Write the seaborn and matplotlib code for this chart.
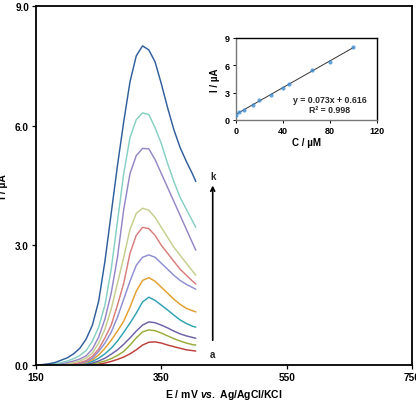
import numpy as np
import pandas as pd
import matplotlib
matplotlib.use("Agg")
import matplotlib.pyplot as plt
import seaborn as sns

# ---------------- data ----------------
E = [150, 160, 170, 180, 190, 200, 210, 220, 230, 240, 250, 260, 270, 280,
     290, 300, 310, 320, 330, 340, 350, 360, 370, 380, 390, 400, 405]

curve_a = [0, 0, 0, 0, 0, 0, 0, 0, 0, 0, 0.02, 0.05, 0.09, 0.14, 0.2, 0.28, 0.38, 0.5, 0.57, 0.58, 0.55, 0.5, 0.46, 0.42, 0.38, 0.36, 0.35]
curve_b = [0, 0, 0, 0, 0, 0, 0, 0, 0, 0.03, 0.06, 0.1, 0.16, 0.24, 0.34, 0.5, 0.68, 0.83, 0.88, 0.86, 0.8, 0.73, 0.66, 0.6, 0.55, 0.51, 0.5]
curve_c = [0, 0, 0, 0, 0, 0, 0, 0, 0.02, 0.05, 0.1, 0.17, 0.27, 0.38, 0.52, 0.68, 0.85, 1.0, 1.08, 1.06, 1.0, 0.93, 0.85, 0.78, 0.73, 0.69, 0.67]
curve_d = [0, 0, 0, 0, 0, 0, 0, 0.02, 0.04, 0.09, 0.17, 0.28, 0.42, 0.6, 0.82, 1.05, 1.3, 1.58, 1.7, 1.62, 1.5, 1.38, 1.25, 1.13, 1.04, 0.97, 0.95]
curve_e = [0, 0, 0, 0, 0, 0, 0.01, 0.03, 0.06, 0.13, 0.25, 0.42, 0.62, 0.85, 1.1, 1.45, 1.85, 2.12, 2.19, 2.1, 1.95, 1.8, 1.65, 1.52, 1.42, 1.36, 1.33]
curve_f = [0, 0, 0, 0, 0, 0, 0.02, 0.04, 0.08, 0.17, 0.34, 0.55, 0.82, 1.2, 1.65, 2.1, 2.5, 2.7, 2.76, 2.7, 2.55, 2.4, 2.25, 2.12, 2.02, 1.94, 1.9]
curve_g = [0, 0, 0, 0, 0, 0.01, 0.03, 0.06, 0.11, 0.22, 0.4, 0.68, 1.0, 1.5, 2.05, 2.8, 3.25, 3.45, 3.42, 3.25, 3.0, 2.8, 2.6, 2.4, 2.25, 2.1, 2.03]
curve_h = [0, 0, 0, 0, 0.01, 0.03, 0.06, 0.1, 0.17, 0.3, 0.55, 0.9, 1.4, 2.05, 2.7, 3.4, 3.8, 3.93, 3.88, 3.7, 3.45, 3.2, 2.95, 2.75, 2.55, 2.35, 2.25]
curve_i = [0, 0, 0, 0.01, 0.03, 0.06, 0.1, 0.15, 0.23, 0.4, 0.7, 1.15, 1.8, 2.7, 3.9, 4.8, 5.25, 5.43, 5.42, 5.15, 4.8, 4.45, 4.1, 3.75, 3.4, 3.05, 2.88]
curve_j = [0, 0, 0.01, 0.03, 0.06, 0.1, 0.16, 0.24, 0.36, 0.6, 0.95, 1.5, 2.4, 3.6, 4.8, 5.7, 6.15, 6.32, 6.28, 5.95, 5.55, 5.05, 4.6, 4.2, 3.9, 3.6, 3.45]
curve_k = [0, 0.01, 0.03, 0.06, 0.12, 0.18, 0.28, 0.42, 0.65, 1.0, 1.6, 2.6, 3.8, 5.0, 6.1, 7.1, 7.75, 8.0, 7.9, 7.6, 7.05, 6.45, 5.9, 5.45, 5.1, 4.78, 4.6]

curve_names = ["a", "b", "c", "d", "e", "f", "g", "h", "i", "j", "k"]
curve_colors = ["#BE3E3C", "#98AC3A", "#6C61A8", "#30A1B1", "#E49E2D", "#8E8ED3",
                "#D97C7C", "#C6CD8C", "#9586C6", "#86CFC3", "#2F5E9C"]

# inset calibration data
conc = [0.5, 2.5, 7, 15, 20, 30, 40, 45, 65, 80, 100]
peak_current = [0.58, 0.88, 1.08, 1.7, 2.2, 2.76, 3.46, 3.96, 5.46, 6.34, 8.0]

x_ticks = [150, 350, 550, 750]
y_ticks = [0.0, 3.0, 6.0, 9.0]
inset_x_ticks = [0, 40, 80, 120]
inset_y_ticks = [0, 3, 6, 9]

# ---------------- style ----------------
sns.set_theme(style="white")
plt.rcParams['font.family'] = ['Liberation Sans', 'DejaVu Sans']
plt.rcParams['font.weight'] = 'bold'
plt.rcParams['mathtext.fontset'] = 'custom'
plt.rcParams['mathtext.rm'] = 'Liberation Sans:bold'
plt.rcParams['mathtext.it'] = 'Liberation Sans:italic:bold'
plt.rcParams['mathtext.bf'] = 'Liberation Sans:bold'

all_curves = [curve_a, curve_b, curve_c, curve_d, curve_e, curve_f,
              curve_g, curve_h, curve_i, curve_j, curve_k]
rows = []
for name, vals in zip(curve_names, all_curves):
    for e, v in zip(E, vals):
        rows.append({"E": e, "I": v, "curve": name})
df = pd.DataFrame(rows)

fig = plt.figure(figsize=(4.16, 4.06), dpi=100)
ax = fig.add_axes([36 / 416, 40 / 406, 376 / 416, 359 / 406])

sns.lineplot(data=df, x="E", y="I", hue="curve", hue_order=curve_names,
             palette=curve_colors, linewidth=1.05, legend=False, ax=ax,
             estimator=None, sort=True)

ax.set_xlim(150, 750)
ax.set_ylim(0, 9)
ax.set_xticks(x_ticks)
ax.set_xticklabels([str(t) for t in x_ticks])
ax.set_yticks(y_ticks)
ax.set_yticklabels([f"{t:.1f}" for t in y_ticks])
for s in ax.spines.values():
    s.set_color("black")
    s.set_linewidth(1.3)
ax.tick_params(axis="both", which="major", direction="out", length=3, width=0.9,
               labelsize=7.2, colors="black", pad=2, bottom=True, left=True)
for lab in ax.get_xticklabels() + ax.get_yticklabels():
    lab.set_fontweight("bold")

ax.set_xlabel(r"$\mathrm{E\ /\ mV\ }\mathit{vs.}\mathrm{\ Ag/AgCl/KCl}$", fontsize=7.5, color="black")
ax.xaxis.set_label_coords(0.5, -0.062)
ax.set_ylabel("I / µA", fontsize=7.5, fontweight="bold", color="black")
ax.yaxis.set_label_coords(-0.074, 0.5)

# arrow a -> k
ax.annotate("", xy=(432, 4.5), xytext=(432, 0.62),
            arrowprops=dict(arrowstyle="->", color="black", lw=1.2,
                            mutation_scale=7, shrinkA=0, shrinkB=0))
ax.text(432, 4.74, "k", fontsize=7, fontweight="bold", ha="center", va="center")
ax.text(432, 0.28, "a", fontsize=7, fontweight="bold", ha="center", va="center")

# ---------------- inset ----------------
ins = fig.add_axes([235.7 / 416, (406 - 121) / 406, 141 / 416, 82 / 406])
inset_df = pd.DataFrame({"C": conc, "I": peak_current})
sns.regplot(data=inset_df, x="C", y="I", ci=None, ax=ins,
            scatter_kws=dict(marker="D", s=9, color="#3F8FD2", linewidths=0, zorder=3),
            line_kws=dict(color="#333333", lw=0.7, zorder=2))
ins.set_xlim(0, 120)
ins.set_ylim(0, 9)
ins.set_xticks(inset_x_ticks)
ins.set_yticks(inset_y_ticks)
ins.set_xticklabels([str(t) for t in inset_x_ticks])
ins.set_yticklabels([str(t) for t in inset_y_ticks])
for s in ins.spines.values():
    s.set_color("black")
    s.set_linewidth(1.0)
ins.spines["left"].set_color("#777777")
ins.spines["bottom"].set_color("#777777")
ins.tick_params(axis="both", direction="out", length=2.5, width=0.7, labelsize=6.5,
                colors="black", pad=2, bottom=True, left=True)
for lab in ins.get_xticklabels() + ins.get_yticklabels():
    lab.set_fontweight("bold")
ins.set_xlabel("C / µM", fontsize=7, fontweight="bold", color="black", labelpad=1)
ins.set_ylabel("I / µA", fontsize=7, fontweight="bold", color="black", labelpad=3)
ins.text(80, 2.3, "y = 0.073x + 0.616", fontsize=6.3, fontweight="bold",
         ha="center", va="center")
ins.text(80, 1.15, "R² = 0.998", fontsize=6.3, fontweight="bold",
         ha="center", va="center")

fig.savefig("out.png", dpi=100)
